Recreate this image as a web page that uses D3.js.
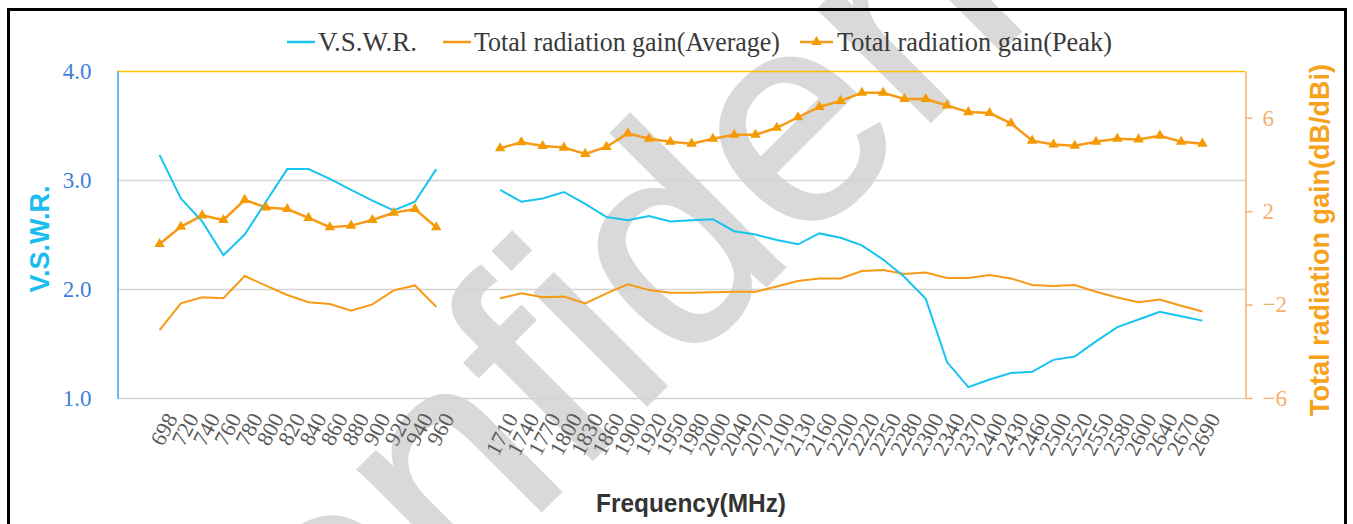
<!DOCTYPE html>
<html>
<head>
<meta charset="utf-8">
<script src="https://cdn.jsdelivr.net/npm/d3@7"></script>
<style>
  body { margin: 0; background: #fff; }
  svg { display: block; }
</style>
</head>
<body>
<div id="chart"></div>
<script>
// frequency categories (MHz) - two empty slots between the low and high band
var lowBand = [698, 720, 740, 760, 780, 800, 820, 840, 860, 880, 900, 920, 940, 960];
var highBand = [1710, 1740, 1770, 1800, 1830, 1860, 1900, 1920, 1950, 1980, 2000, 2040, 2070, 2100,
  2130, 2160, 2200, 2220, 2250, 2280, 2300, 2340, 2370, 2400, 2430, 2460, 2500, 2520, 2550, 2580,
  2600, 2640, 2670, 2690];
var categories = lowBand.concat([null, null], highBand);

// V.S.W.R. (left axis)
var vswr = [3.23, 2.83, 2.62, 2.31, 2.50, 2.80, 3.10, 3.10, 3.01, 2.91, 2.81, 2.72, 2.80, 3.10,
  null, null,
  2.91, 2.80, 2.83, 2.89, 2.78, 2.66, 2.63, 2.67, 2.62, 2.63, 2.64, 2.53, 2.50, 2.45, 2.41, 2.51,
  2.47, 2.40, 2.27, 2.11, 1.91, 1.33, 1.10, 1.17, 1.23, 1.24, 1.35, 1.38, 1.52, 1.65, 1.72, 1.79,
  1.75, 1.71];

// total radiation gain, average (right axis, dBi)
var gainAvg = [-3.09, -1.95, -1.69, -1.73, -0.78, -1.19, -1.59, -1.90, -1.98, -2.26, -1.99, -1.39, -1.18, -2.09,
  null, null,
  -1.73, -1.52, -1.69, -1.66, -1.95, -1.52, -1.13, -1.38, -1.49, -1.49, -1.47, -1.45, -1.45, -1.23,
  -0.99, -0.88, -0.88, -0.56, -0.52, -0.69, -0.63, -0.86, -0.86, -0.73, -0.88, -1.16, -1.20, -1.16,
  -1.45, -1.70, -1.90, -1.78, -2.05, -2.30];

// total radiation gain, peak (right axis, dBi)
var gainPeak = [0.59, 1.33, 1.82, 1.62, 2.48, 2.16, 2.09, 1.71, 1.31, 1.38, 1.62, 1.93, 2.09, 1.31,
  null, null,
  4.69, 4.95, 4.79, 4.72, 4.45, 4.75, 5.33, 5.10, 4.97, 4.89, 5.10, 5.27, 5.27, 5.57, 6.02, 6.46,
  6.72, 7.07, 7.07, 6.80, 6.80, 6.52, 6.24, 6.20, 5.76, 5.02, 4.85, 4.80, 4.97, 5.10, 5.07, 5.23,
  4.97, 4.89];

var leftTicks = [1, 2, 3, 4];
var rightTicks = [-6, -2, 2, 6];

var width = 1353;
var height = 524;

var plotLeft = 117;
var plotRight = 1245;
var plotTop = 71;
var plotBottom = 398;

var cyan = "#17c4f0";
var orange = "#f79a17";
var serif = "'Liberation Serif', 'Times New Roman', serif";
var sans = "'Liberation Sans', Arial, sans-serif";

var svg = d3.select("#chart")
  .append("svg")
  .attr("width", width)
  .attr("height", height);

svg.append("rect")
  .attr("width", width)
  .attr("height", height)
  .attr("fill", "#fff");

// watermark
svg.append("text")
  .attr("transform", "translate(185,867)rotate(-45)")
  .attr("font-family", sans)
  .attr("font-size", 300)
  .attr("fill", "#d9d9d9")
  .attr("stroke", "#d9d9d9")
  .attr("stroke-width", 3)
  .text("Confidential");

// outer frame
svg.append("rect")
  .attr("x", 8.5)
  .attr("y", 9.5)
  .attr("width", 1337)
  .attr("height", 600)
  .attr("fill", "none")
  .attr("stroke", "#000")
  .attr("stroke-width", 3);

var idx = d3.range(categories.length);

var xScale = d3.scalePoint()
  .domain(idx)
  .range([plotLeft, plotRight])
  .padding(2);

var yLeft = d3.scaleLinear()
  .domain([1, 4])
  .range([plotBottom, plotTop]);

var yRight = d3.scaleLinear()
  .domain([-6, 8])
  .range([plotBottom, plotTop]);

// gridlines
svg.append("g")
  .selectAll("line")
  .data([1, 2, 3])
  .enter()
  .append("line")
  .attr("x1", plotLeft)
  .attr("x2", plotRight)
  .attr("y1", function(d) { return Math.round(yLeft(d)) + 0.5; })
  .attr("y2", function(d) { return Math.round(yLeft(d)) + 0.5; })
  .attr("stroke", "#d4d4d4")
  .attr("stroke-width", 1.5);

svg.append("line")
  .attr("x1", plotLeft)
  .attr("x2", plotRight)
  .attr("y1", plotTop + 0.5)
  .attr("y2", plotTop + 0.5)
  .attr("stroke", "#ffc000")
  .attr("stroke-width", 1.5);

// left axis
var leftAxis = d3.axisLeft(yLeft)
  .tickValues(leftTicks)
  .tickSize(0)
  .tickPadding(26)
  .tickFormat(d3.format(".1f"));

var gL = svg.append("g")
  .attr("transform", "translate(" + (plotLeft + 0.5) + ",0)")
  .call(leftAxis);
gL.select(".domain").attr("stroke", "#3aa6e8").attr("stroke-width", 1.5);
gL.selectAll("text")
  .attr("font-family", serif)
  .attr("font-size", 23)
  .attr("fill", "#3f7fdc");

// right axis
var rightAxis = d3.axisRight(yRight)
  .tickValues(rightTicks)
  .tickSize(7)
  .tickSizeOuter(0)
  .tickPadding(10);

var gR = svg.append("g")
  .attr("transform", "translate(" + (plotRight + 0.5) + ",0)")
  .call(rightAxis);
gR.select(".domain").attr("stroke", "#f6b26b").attr("stroke-width", 1.5);
gR.selectAll(".tick line").attr("stroke", "#f6b26b").attr("stroke-width", 1.5);
gR.selectAll("text")
  .attr("font-family", serif)
  .attr("font-size", 23)
  .attr("fill", "#f4b06a");

// x labels
var gX = svg.append("g");
gX.selectAll("text")
  .data(idx.filter(function(i) { return categories[i] !== null; }))
  .enter()
  .append("text")
  .attr("transform", function(i) {
    return "translate(" + (xScale(i) + 5) + ",411)rotate(-62)";
  })
  .attr("text-anchor", "end")
  .attr("dy", "0.7em")
  .attr("font-family", serif)
  .attr("font-size", 22)
  .attr("fill", "#595959")
  .text(function(i) { return categories[i]; });

// lines
function makeLine(values, scale) {
  return d3.line()
    .defined(function(i) { return values[i] !== null; })
    .x(function(i) { return xScale(i); })
    .y(function(i) { return scale(values[i]); });
}

svg.append("path")
  .attr("d", makeLine(gainAvg, yRight)(idx))
  .attr("fill", "none")
  .attr("stroke", orange)
  .attr("stroke-width", 2);

svg.append("path")
  .attr("d", makeLine(gainPeak, yRight)(idx))
  .attr("fill", "none")
  .attr("stroke", orange)
  .attr("stroke-width", 2.5);

svg.append("path")
  .attr("d", makeLine(vswr, yLeft)(idx))
  .attr("fill", "none")
  .attr("stroke", cyan)
  .attr("stroke-width", 2);

var tri = d3.symbol().type(d3.symbolTriangle).size(48);

svg.append("g")
  .selectAll("path")
  .data(idx.filter(function(i) { return gainPeak[i] !== null; }))
  .enter()
  .append("path")
  .attr("d", tri)
  .attr("transform", function(i) {
    return "translate(" + xScale(i) + "," + yRight(gainPeak[i]) + ")";
  })
  .attr("fill", "#f59a00");

// legend
var legend = [
  { name: "V.S.W.R.", x1: 287, x2: 315, tx: 318, tl: 99, marker: false, color: cyan },
  { name: "Total radiation gain(Average)", x1: 443, x2: 471, tx: 474, tl: 306, marker: false, color: orange },
  { name: "Total radiation gain(Peak)", x1: 800, x2: 833, tx: 837, tl: 275, marker: true, color: orange }
];

var gLeg = svg.append("g");
legend.forEach(function(d) {
  gLeg.append("line")
    .attr("x1", d.x1).attr("x2", d.x2)
    .attr("y1", 42).attr("y2", 42)
    .attr("stroke", d.color)
    .attr("stroke-width", 2.5);
  if (d.marker) {
    gLeg.append("path")
      .attr("d", tri)
      .attr("transform", "translate(" + ((d.x1 + d.x2) / 2) + ",42)")
      .attr("fill", "#f59a00");
  }
  gLeg.append("text")
    .attr("x", d.tx)
    .attr("y", 51)
    .attr("textLength", d.tl)
    .attr("lengthAdjust", "spacingAndGlyphs")
    .attr("font-family", serif)
    .attr("font-size", 28)
    .attr("fill", "#3a3a3a")
    .text(d.name);
});

// axis titles
svg.append("text")
  .attr("transform", "translate(49,239)rotate(-90)")
  .attr("text-anchor", "middle")
  .attr("font-family", sans)
  .attr("font-weight", "bold")
  .attr("font-size", 27)
  .attr("fill", "#19bdf0")
  .text("V.S.W.R.");

svg.append("text")
  .attr("transform", "translate(1329,240)rotate(-90)")
  .attr("text-anchor", "middle")
  .attr("font-family", sans)
  .attr("font-weight", "bold")
  .attr("font-size", 27)
  .attr("fill", "#f6a21c")
  .text("Total radiation gain(dB/dBi)");

svg.append("text")
  .attr("x", 596)
  .attr("y", 512)
  .attr("textLength", 190)
  .attr("lengthAdjust", "spacingAndGlyphs")
  .attr("font-family", sans)
  .attr("font-weight", "bold")
  .attr("font-size", 25)
  .attr("fill", "#333")
  .text("Frequency(MHz)");
</script>
</body>
</html>
